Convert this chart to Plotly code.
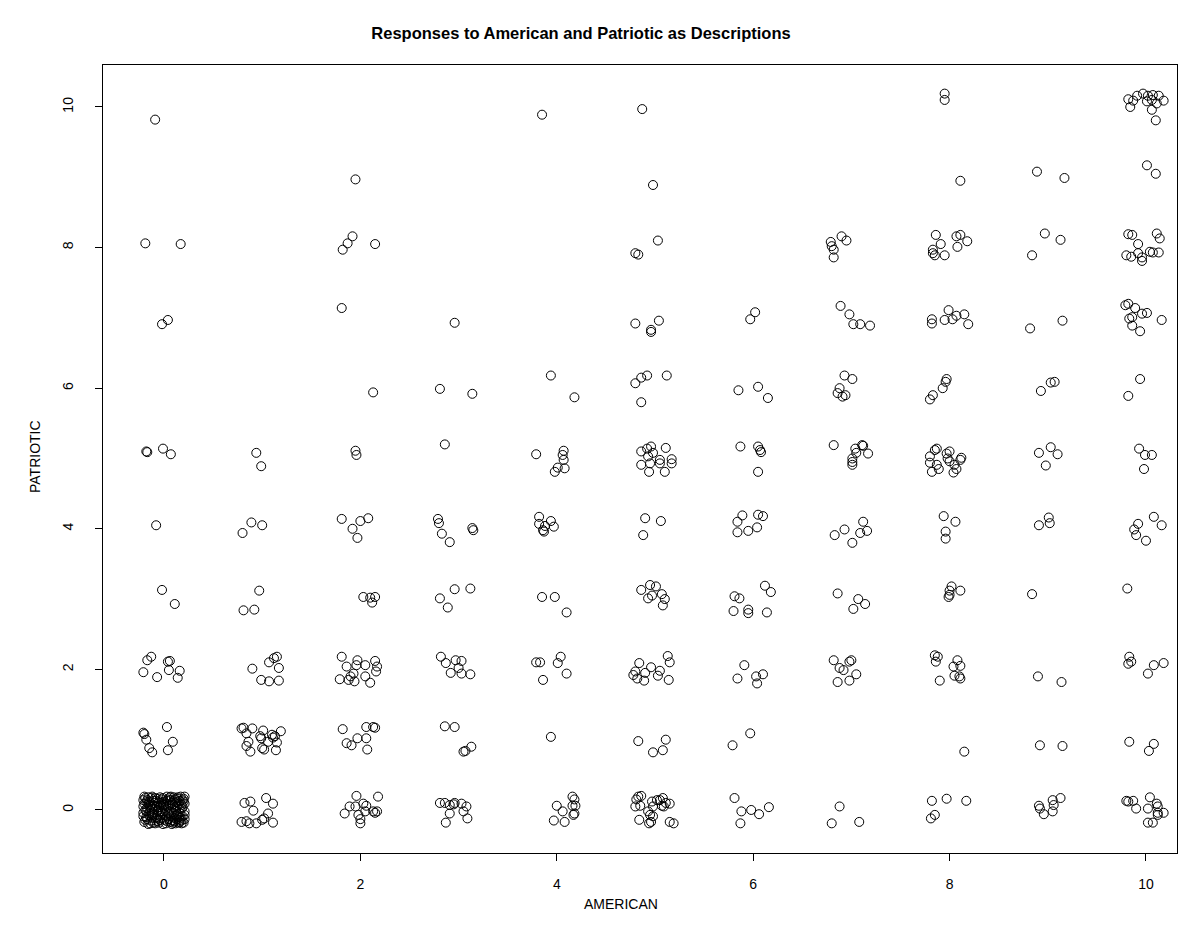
import plotly.graph_objects as go

# ---- data: jittered responses, grouped by PATRIOTIC level ----
am_p10 = [-0.09, 3.85, 4.87, 7.95, 7.95, 9.82, 9.87, 9.91, 9.97, 10.02, 10.07, 10.13, 10.18, 10.01, 10.06, 10.11, 9.84, 10.06, 10.10]
pa_p10 = [9.82, 9.89, 9.97, 10.19, 10.10, 10.11, 10.09, 10.16, 10.19, 10.16, 10.17, 10.16, 10.09, 10.08, 10.10, 10.05, 10.00, 9.96, 9.81]

am_p9 = [1.95, 4.98, 8.11, 8.89, 9.17, 10.01, 10.10]
pa_p9 = [8.97, 8.89, 8.95, 9.08, 8.99, 9.17, 9.05]

am_p8 = [-0.19, 0.17, 1.92, 1.87, 1.82, 2.15, 5.03, 4.80, 4.83,
         6.79, 6.80, 6.82, 6.82, 6.90, 6.95,
         7.86, 7.91, 7.83, 7.83, 7.85, 7.95, 8.07, 8.11, 8.18, 8.08,
         8.97, 9.13, 8.84,
         9.82, 9.86, 9.92, 10.11, 10.14, 9.80, 9.85, 9.92, 9.96, 10.04, 10.07, 10.13, 9.96]
pa_p8 = [8.06, 8.05, 8.16, 8.06, 7.97, 8.05, 8.10, 7.92, 7.90,
         8.08, 8.02, 7.97, 7.86, 8.16, 8.10,
         8.18, 8.05, 7.97, 7.92, 7.89, 7.89, 8.16, 8.18, 8.09, 8.01,
         8.20, 8.11, 7.89,
         8.19, 8.18, 8.05, 8.20, 8.13, 7.89, 7.87, 7.92, 7.86, 7.94, 7.93, 7.93, 7.81]

am_p7 = [-0.02, 0.04, 1.81, 2.96, 4.80, 5.04, 4.96, 4.96, 6.02, 5.97,
         6.89, 6.98, 7.02, 7.09, 7.19,
         7.82, 7.82, 7.99, 7.95, 8.03, 8.07, 8.15, 8.19,
         8.82, 9.15,
         9.79, 9.82, 9.89, 9.83, 9.86, 9.96, 10.01, 9.86, 9.94, 10.16]
pa_p7 = [6.91, 6.97, 7.14, 6.93, 6.92, 6.96, 6.83, 6.80, 7.08, 6.98,
         7.17, 7.05, 6.91, 6.91, 6.89,
         6.98, 6.92, 7.11, 6.97, 6.98, 7.03, 7.05, 6.91,
         6.85, 6.96,
         7.18, 7.20, 7.14, 6.99, 7.01, 7.06, 7.07, 6.89, 6.81, 6.97]

am_p6 = [2.13, 2.81, 3.14, 3.94, 4.18, 4.80, 4.86, 4.92, 5.12, 4.86,
         5.85, 6.05, 6.15, 6.93, 7.01, 6.88, 6.86, 6.91, 6.94,
         7.97, 7.96, 7.93, 7.83, 7.80, 8.93, 9.03, 9.07, 9.94, 9.82]
pa_p6 = [5.94, 5.99, 5.92, 6.18, 5.87, 6.07, 6.15, 6.18, 6.18, 5.80,
         5.97, 6.02, 5.86, 6.18, 6.13, 6.00, 5.93, 5.88, 5.90,
         6.13, 6.09, 6.00, 5.90, 5.84, 5.96, 6.08, 6.09, 6.13, 5.89]

am_p5 = [-0.18, -0.17, -0.01, 0.07, 0.94, 0.99, 1.95, 1.96, 2.86,
         3.79, 4.07, 4.06, 4.07, 3.98, 4.01, 4.08,
         4.86, 4.92, 4.96, 4.98, 5.11, 5.17, 5.05, 4.93, 4.86, 4.94, 4.95, 5.05, 5.10, 5.17,
         5.87, 6.05, 6.07, 6.08, 6.05,
         6.82, 7.04, 7.05, 7.11, 7.12, 7.17, 7.01, 7.01, 7.01,
         7.87, 7.80, 7.97, 8.00, 8.12, 7.85, 7.98, 7.82, 7.89, 7.87, 7.80, 8.00, 8.04, 8.07, 8.05, 8.11,
         8.91, 9.03, 9.10, 8.98, 9.93, 9.99, 10.06, 9.98]
pa_p5 = [5.10, 5.09, 5.14, 5.06, 5.08, 4.89, 5.11, 5.05, 5.20,
         5.06, 5.11, 5.05, 4.98, 4.81, 4.87, 4.86,
         5.10, 5.14, 5.17, 5.08, 5.15, 4.99, 4.98, 5.03, 4.91, 4.81, 4.93, 4.93, 4.81, 4.93,
         5.17, 5.17, 5.12, 5.09, 4.81,
         5.19, 5.14, 5.08, 5.19, 5.18, 5.07, 5.00, 4.91, 4.95,
         5.14, 5.03, 5.07, 5.10, 5.01, 5.12, 5.00, 4.81, 4.85, 4.91, 4.94, 4.96, 4.80, 4.85, 4.91, 4.98,
         5.08, 5.16, 5.06, 4.90, 5.14, 5.05, 5.05, 4.85]

am_p4 = [-0.08, 0.80, 0.89, 1.00, 1.81, 1.92, 2.00, 2.08, 1.97,
         2.79, 2.80, 2.83, 2.91, 3.14, 3.15,
         3.82, 3.82, 3.94, 3.88, 3.97, 3.86, 3.87,
         4.90, 5.06, 4.88, 5.89, 5.84, 6.05, 6.10, 5.84, 5.95, 6.04,
         6.83, 6.93, 7.01, 7.09, 7.16, 7.12, 7.94, 8.06, 7.96, 7.96,
         8.91, 9.01, 9.02, 9.92, 9.88, 9.90, 10.08, 10.16, 10.00]
pa_p4 = [4.05, 3.94, 4.09, 4.05, 4.14, 4.00, 4.11, 4.15, 3.87,
         4.14, 4.08, 3.93, 3.81, 4.01, 3.98,
         4.17, 4.07, 4.11, 4.04, 4.03, 3.98, 3.96,
         4.15, 4.11, 3.91, 4.19, 4.10, 4.20, 4.18, 3.95, 3.97, 4.02,
         3.91, 3.99, 3.80, 3.94, 3.97, 4.10, 4.18, 4.10, 3.96, 3.86,
         4.05, 4.16, 4.08, 4.07, 3.99, 3.91, 4.17, 4.05, 3.83]

am_p3 = [-0.02, 0.11, 0.97, 0.81, 0.92, 2.03, 2.10, 2.12, 2.15,
         2.81, 2.96, 2.89, 3.12, 3.85, 3.98, 4.10,
         4.86, 4.95, 5.01, 4.93, 4.97, 5.07, 5.10, 5.08,
         5.81, 5.86, 5.80, 5.95, 5.95, 6.12, 6.18, 6.14,
         6.86, 7.07, 7.14, 7.02, 8.02, 8.00, 8.11, 8.00, 7.99, 8.84, 9.81]
pa_p3 = [3.13, 2.93, 3.12, 2.84, 2.85, 3.03, 3.02, 2.95, 3.03,
         3.01, 3.14, 2.88, 3.15, 3.03, 3.03, 2.81,
         3.13, 3.20, 3.18, 3.01, 3.05, 3.07, 3.00, 2.91,
         3.04, 3.01, 2.83, 2.85, 2.80, 3.19, 3.10, 2.81,
         3.08, 3.00, 2.93, 2.86, 3.18, 3.12, 3.12, 3.06, 3.03, 3.07, 3.15]

am_p2 = [-0.21, -0.17, -0.13, -0.07, 0.04, 0.06, 0.05, 0.14, 0.16,
         0.90, 0.99, 1.07, 1.17, 1.17, 1.07, 1.12, 1.15,
         1.79, 1.88, 1.94, 1.93, 1.86, 1.96, 2.05, 2.05, 2.10, 2.16, 2.17, 1.90, 1.81, 1.97, 2.15,
         2.82, 2.87, 2.97, 3.03, 2.92, 3.00, 3.03, 3.12,
         3.79, 3.83, 4.01, 4.10, 3.86, 4.04,
         4.84, 4.96, 5.05, 5.15, 4.80, 4.78, 4.82, 4.90, 4.89, 5.03, 5.14, 5.13,
         5.91, 5.84, 6.03, 6.10, 6.04,
         6.86, 6.98, 7.05, 6.88, 6.92, 6.82, 6.98, 7.00,
         7.86, 8.04, 8.11, 8.05, 8.11, 8.10, 7.90, 7.85, 7.88, 8.08,
         8.90, 9.14, 9.82, 9.85, 10.08, 10.18, 10.02, 9.83]
pa_p2 = [1.96, 2.13, 2.18, 1.89, 2.11, 2.12, 1.99, 1.88, 1.98,
         2.01, 1.85, 1.83, 1.84, 2.02, 2.10, 2.16, 2.18,
         1.86, 1.85, 1.83, 1.94, 2.04, 2.06, 2.06, 1.90, 1.81, 1.97, 2.04, 1.90, 2.18, 2.13, 2.12,
         2.18, 2.09, 2.13, 2.12, 1.95, 2.02, 1.94, 1.93,
         2.10, 2.10, 2.09, 1.94, 1.85, 2.18,
         2.09, 2.03, 1.98, 2.10, 1.97, 1.92, 1.87, 1.95, 1.84, 1.91, 1.85, 2.19,
         2.06, 1.87, 1.90, 1.93, 1.80,
         1.82, 1.84, 1.93, 2.02, 1.99, 2.13, 2.11, 2.13,
         2.11, 2.04, 2.05, 1.91, 1.87, 1.90, 1.84, 2.20, 2.18, 2.13,
         1.90, 1.82, 2.08, 2.11, 2.06, 2.09, 1.94, 2.18]

am_p1 = [-0.20, -0.21, -0.18, -0.15, -0.12, 0.03, 0.09, 0.04,
         0.79, 0.81, 0.90, 0.84, 1.01, 0.98, 0.99, 1.10, 1.11, 1.13, 1.19, 0.86, 0.84, 0.88, 1.00, 1.02, 1.14, 1.06, 1.15,
         1.82, 2.06, 2.13, 2.15, 1.97, 2.06, 1.86, 1.91, 2.07,
         2.86, 2.96, 3.07, 3.13, 3.05,
         3.94, 4.83, 5.11, 5.08, 4.98, 5.79, 5.97,
         8.15, 8.92, 9.15, 9.83, 10.08, 10.03]
pa_p1 = [1.08, 1.10, 1.00, 0.88, 0.82, 1.18, 0.97, 0.85,
         1.16, 1.17, 1.16, 1.09, 1.13, 1.05, 1.02, 1.07, 1.03, 1.05, 1.12, 0.97, 0.91, 0.83, 0.88, 0.86, 0.85, 0.97, 0.96,
         1.15, 1.18, 1.18, 1.17, 1.02, 1.02, 0.95, 0.92, 0.86,
         1.19, 1.18, 0.84, 0.90, 0.83,
         1.04, 0.98, 1.00, 0.85, 0.82, 0.92, 1.09,
         0.83, 0.92, 0.91, 0.97, 0.94, 0.84]

# dense block at AMERICAN = 0, PATRIOTIC = 0
am_p0_blob = [-0.19, -0.12, -0.04, 0.03, 0.10, 0.17, 0.20, -0.20, -0.15, -0.08, 0.00, 0.06, 0.13, 0.18,
              -0.17, -0.10, -0.03, 0.04, 0.11, 0.16, 0.21, -0.21, -0.14, -0.06, 0.01, 0.08, 0.14, 0.19,
              -0.18, -0.11, -0.04, 0.03, 0.10, 0.16, 0.20, -0.20, -0.13, -0.06, 0.00, 0.06, 0.12, -0.16,
              -0.09, -0.01, 0.08, 0.15, -0.07, 0.14, -0.17, 0.02, -0.12, 0.09, -0.02, 0.12, -0.15, 0.05,
              -0.08, 0.17, -0.19, 0.19, -0.05, 0.07, -0.10, 0.15, -0.13, 0.11, -0.02, 0.04, -0.17, 0.18,
              -0.07, 0.13, 0.00, -0.11, 0.09, -0.03, 0.20, -0.20, 0.06, -0.14,
              -0.16, -0.09, -0.01, 0.07, 0.14, 0.21, -0.18, -0.11, -0.05, 0.03, 0.09, 0.16, 0.21,
              -0.21, -0.14, -0.07, 0.00, 0.06, 0.13, 0.18, -0.18, -0.10, -0.03, 0.05, 0.10, 0.16, 0.21,
              -0.21, -0.15, -0.07, 0.01, 0.07, 0.13, 0.18, -0.19, -0.12, -0.04, 0.03, 0.09, 0.16, 0.21,
              -0.14, -0.05, 0.02, 0.11, -0.21, 0.19, -0.09, 0.08, -0.16, 0.12, -0.01, 0.15, -0.12, 0.04]
pa_p0_blob = [0.17, 0.19, 0.18, 0.19, 0.18, 0.19, 0.12, 0.09, 0.12, 0.13, 0.12, 0.14, 0.11, 0.07,
              0.03, 0.06, 0.07, 0.05, 0.04, 0.01, -0.02, -0.04, -0.01, 0.00, -0.01, -0.03, -0.06, -0.09,
              -0.10, -0.07, -0.08, -0.09, -0.11, -0.14, -0.18, -0.17, -0.15, -0.16, -0.14, -0.17, -0.19, -0.20,
              -0.19, -0.20, -0.20, -0.18, 0.16, 0.16, 0.14, 0.09, 0.02, 0.08, -0.04, -0.01, -0.05, -0.13,
              -0.12, -0.11, 0.00, 0.04, 0.04, 0.02, 0.10, 0.09, 0.17, 0.15, 0.15, -0.05, -0.13, -0.15,
              -0.02, -0.08, 0.03, -0.18, -0.15, 0.10, 0.16, 0.19, 0.18, 0.07,
              0.18, 0.17, 0.17, 0.19, 0.18, 0.19, 0.11, 0.13, 0.11, 0.13, 0.12, 0.13, 0.09,
              0.05, 0.04, 0.06, 0.07, 0.07, 0.05, 0.02, -0.02, -0.03, -0.02, -0.02, -0.05, -0.04, -0.07,
              -0.09, -0.08, -0.10, -0.07, -0.09, -0.13, -0.19, -0.14, -0.11, -0.14, -0.16, -0.18, -0.17, -0.13,
              -0.19, -0.18, -0.19, -0.16, 0.14, 0.14, 0.04, 0.10, 0.08, 0.02, -0.11, -0.10, -0.05, 0.15]

am_p0 = am_p0_blob + [
         0.82, 0.88, 1.04, 1.11, 0.91, 1.06, 0.79, 0.84, 0.87, 0.94, 1.00, 1.02, 1.11,
         1.96, 2.18, 1.89, 1.84, 1.95, 2.03, 2.06, 2.05, 1.98, 2.00, 2.00, 2.13, 2.15, 2.17,
         2.81, 2.86, 2.91, 2.95, 2.96, 2.91, 2.87, 3.03, 3.08, 3.05, 3.09,
         4.00, 4.06, 3.97, 4.08, 4.16, 4.18, 4.16, 4.19, 4.17, 4.18,
         4.83, 4.86, 4.81, 4.80, 4.85, 4.97, 4.98, 5.05, 5.08, 5.11, 5.15, 5.07, 5.09,
         4.93, 4.95, 4.98, 4.96, 4.94, 4.84, 5.15, 5.19, 5.02,
         5.81, 5.88, 5.98, 6.06, 6.16, 5.87,
         6.88, 6.80, 7.08,
         7.82, 7.97, 8.17, 7.85, 7.81,
         8.91, 8.92, 9.05, 9.06, 9.05, 9.13, 8.96,
         9.80, 9.82, 9.87, 9.90, 10.04, 10.02, 10.11, 10.12, 10.12, 10.18, 10.12, 10.02, 10.07]
pa_p0 = pa_p0_blob + [
         0.10, 0.12, 0.17, 0.09, -0.01, -0.05, -0.17, -0.16, -0.19, -0.19, -0.14, -0.12, -0.18,
         0.20, 0.19, 0.05, -0.05, 0.05, 0.09, 0.06, -0.02, -0.07, -0.13, -0.19, -0.02, -0.04, -0.02,
         0.10, 0.10, 0.07, 0.08, 0.10, -0.05, -0.18, 0.09, 0.05, -0.02, -0.12,
         0.06, -0.02, -0.15, -0.17, 0.19, 0.15, 0.06, 0.06, -0.07, -0.05,
         0.19, 0.20, 0.15, 0.05, 0.06, 0.12, 0.05, 0.14, 0.17, 0.10, 0.09, 0.06, 0.05,
         -0.02, -0.07, -0.09, -0.17, -0.19, -0.14, -0.17, -0.19, 0.14,
         0.17, -0.02, 0.00, -0.06, 0.04, -0.19,
         0.05, -0.19, -0.17,
         0.13, 0.16, 0.13, -0.07, -0.12,
         0.06, 0.02, 0.14, 0.07, -0.02, 0.17, -0.06,
         0.13, 0.12, 0.13, 0.02, 0.18, 0.02, 0.09, 0.05, -0.04, -0.04, -0.07, -0.18, -0.18]

american = am_p10 + am_p9 + am_p8 + am_p7 + am_p6 + am_p5 + am_p4 + am_p3 + am_p2 + am_p1 + am_p0
patriotic = pa_p10 + pa_p9 + pa_p8 + pa_p7 + pa_p6 + pa_p5 + pa_p4 + pa_p3 + pa_p2 + pa_p1 + pa_p0

x_ticks = [0, 2, 4, 6, 8, 10]
y_ticks = [0, 2, 4, 6, 8, 10]

FONT = "Liberation Sans, Arial, Helvetica, sans-serif"

fig = go.Figure()
fig.add_trace(go.Scatter(
    x=american, y=patriotic, mode="markers",
    marker=dict(symbol="circle-open", size=9, color="black", line=dict(width=1, color="black")),
    hoverinfo="x+y", showlegend=False,
))

# page body adds an 8px offset; figure sized so the plot box lands where the reference has it
OFF = 8
W, H = 1183, 930
L, R, T, B = 103 - OFF, W - (1177 - OFF), 65 - OFF, H - (853 - OFF)
PW, PH = W - L - R, H - T - B

fig.update_layout(
    width=W, height=H,
    margin=dict(l=L, r=R, t=T, b=B, pad=0),
    plot_bgcolor="white", paper_bgcolor="white",
    font=dict(family=FONT, size=14, color="black"),
    title=dict(text="<b>Responses to American and Patriotic as Descriptions</b>",
               x=(581 - OFF) / W, xanchor="center", xref="container",
               y=1 - (33 - OFF) / H, yanchor="middle", yref="container",
               font=dict(family=FONT, size=16.5, color="black")),
    xaxis=dict(range=[-0.621, 10.316], tickvals=x_ticks, ticktext=[str(v) for v in x_ticks],
               showgrid=False, zeroline=False, showline=True, mirror=True,
               linecolor="black", linewidth=1, ticks="outside", ticklen=7, tickcolor="black",
               ticklabelstandoff=11, tickfont=dict(size=14, family=FONT)),
    yaxis=dict(range=[-0.612, 10.597], tickvals=y_ticks, ticktext=[str(v) for v in y_ticks],
               showgrid=False, zeroline=False, showline=True, mirror=True,
               linecolor="black", linewidth=1, ticks="outside", ticklen=7, tickcolor="black",
               tickangle=-90, ticklabelstandoff=16, tickfont=dict(size=14, family=FONT)),
    annotations=[
        dict(text="AMERICAN", xref="paper", yref="paper",
             x=(621 - 103) / PW, y=-(904 - 853) / PH,
             xanchor="center", yanchor="middle", showarrow=False, font=dict(size=14, family=FONT)),
        dict(text="PATRIOTIC", xref="paper", yref="paper", textangle=-90,
             x=-(103 - 35) / PW, y=(853 - 457) / PH,
             xanchor="center", yanchor="middle", showarrow=False, font=dict(size=14, family=FONT)),
    ],
)

fig.write_html("out.html")
